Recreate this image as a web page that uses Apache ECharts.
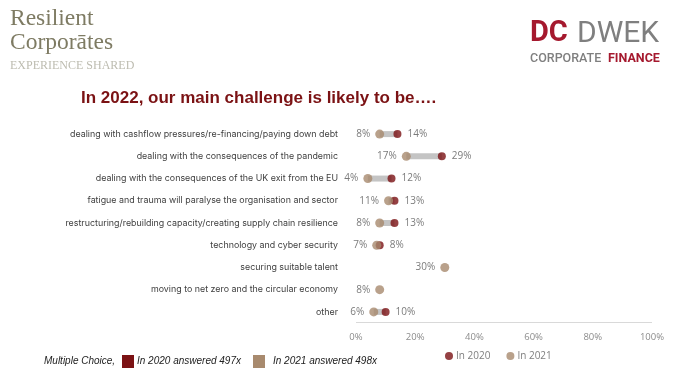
<!DOCTYPE html>
<html><head><meta charset="utf-8">
<script src="https://cdn.jsdelivr.net/npm/echarts@6/dist/echarts.min.js"></script>
<style>html,body{margin:0;padding:0;background:#fff}#c{width:685px;height:385px}</style>
</head><body><div id="c"></div>
<script>
const categories = [
  "dealing with cashflow pressures/re-financing/paying down debt",
  "dealing with the consequences of the pandemic",
  "dealing with the consequences of the UK exit from the EU",
  "fatigue and trauma will paralyse the organisation and sector",
  "restructuring/rebuilding capacity/creating supply chain resilience",
  "technology and cyber security",
  "securing suitable talent",
  "moving to net zero and the circular economy",
  "other"
];
const in2020 = [14, 29, 12, 13, 13, 8, null, null, 10];
const in2021 = [8, 17, 4, 11, 8, 7, 30, 8, 6];
const xTicks = [0, 20, 40, 60, 80, 100];

const base = categories.map((c, i) => in2020[i] == null ? in2021[i] : Math.min(in2020[i], in2021[i]));
const gap = categories.map((c, i) => in2020[i] == null ? 0 : Math.abs(in2020[i] - in2021[i]));

const RED = '#7b1214', TAN = '#a88a6e', LBL = '#595959';
const chart = echarts.init(document.getElementById('c'));
chart.setOption({
  animation: false,
  grid: { left: 356, right: 33, top: 123, height: 200 },
  xAxis: {
    type: 'value', min: 0, max: 100, interval: 20,
    axisLine: { show: false }, axisTick: { show: false }, splitLine: { show: false },
    axisLabel: { formatter: v => xTicks.includes(v) ? v + '%' : '', color: '#8c8c8c', fontSize: 9.5, fontFamily: 'Open Sans', margin: 9 }
  },
  yAxis: {
    type: 'category', data: categories, inverse: true,
    axisLine: { show: false },
    axisTick: { show: false },
    axisLabel: { color: '#404040', fontSize: 8.9, fontFamily: 'Inter', margin: 18 }
  },
  legend: {
    data: [{ name: 'In 2020', icon: 'circle' }, { name: 'In 2021', icon: 'circle' }],
    left: 440, top: 346, itemWidth: 8, itemHeight: 8, itemGap: 16,
    textStyle: { color: '#7f7f7f', fontSize: 10, fontFamily: 'Open Sans', padding: [0, 0, 0, -2] }
  },
  series: [
    { type: 'bar', stack: 's', data: base, barWidth: 6, itemStyle: { color: 'transparent' }, silent: true },
    { type: 'bar', stack: 's', data: gap, barWidth: 6, itemStyle: { color: '#c4c4c4' }, silent: true },
    { name: 'In 2020', type: 'scatter', data: in2020, symbolSize: 8, itemStyle: { color: RED }, z: 3,
      label: { show: true, position: 'right', distance: 6, formatter: p => p.value + '%', color: LBL, fontSize: 10, fontFamily: 'Open Sans' } },
    { name: 'In 2021', type: 'scatter', data: in2021, symbolSize: 9, itemStyle: { color: TAN }, z: 4,
      label: { show: true, position: 'left', distance: 5, formatter: p => p.value + '%', color: LBL, fontSize: 10, fontFamily: 'Open Sans' } }
  ],
  graphic: [
    { type: 'line', shape: { x1: 356, y1: 322.5, x2: 652, y2: 322.5 }, style: { stroke: '#d9d9d9', lineWidth: 1 } },
    { type: 'text', left: 10, top: 7, style: { text: 'Resilient', font: '23.5px "Liberation Serif"', fill: '#7e7b63' } },
    { type: 'text', left: 10, top: 31, style: { text: 'Corporātes', font: '23.5px "Liberation Serif"', fill: '#7e7b63' } },
    { type: 'text', left: 10, top: 60, style: { text: 'EXPERIENCE SHARED', font: '12px "Liberation Serif"', fill: '#bdbcb0' } },
    { type: 'text', left: 530, top: 19, style: { text: 'DC', font: 'bold 29px "Roboto"', fill: '#a5192e' } },
    { type: 'text', left: 577, top: 19, style: { text: 'DWEK', font: '30px "Roboto"', fill: '#7f7f7f' } },
    { type: 'text', left: 530, top: 52, style: { text: 'CORPORATE', font: '500 12.5px "Roboto"', fill: '#7f7f7f' } },
    { type: 'text', left: 608, top: 52, style: { text: 'FINANCE', font: 'bold 12.5px "Roboto"', fill: '#a5192e' } },
    { type: 'text', left: 81, top: 90, style: { text: 'In 2022, our main challenge is likely to be….', font: 'bold 17px "Liberation Sans"', fill: '#7b1214' } },
    { type: 'text', left: 44, top: 356, style: { text: 'Multiple Choice,', font: 'italic 10px "Liberation Sans"', fill: '#222' } },
    { type: 'rect', shape: { x: 122, y: 355, width: 12, height: 13 }, style: { fill: '#7b1214' } },
    { type: 'text', left: 137, top: 356, style: { text: 'In 2020 answered 497x', font: 'italic 10px "Liberation Sans"', fill: '#222' } },
    { type: 'rect', shape: { x: 253, y: 355, width: 12, height: 13 }, style: { fill: '#a88a6e' } },
    { type: 'text', left: 273, top: 356, style: { text: 'In 2021 answered 498x', font: 'italic 10px "Liberation Sans"', fill: '#222' } }
  ]
});
</script></body></html>
